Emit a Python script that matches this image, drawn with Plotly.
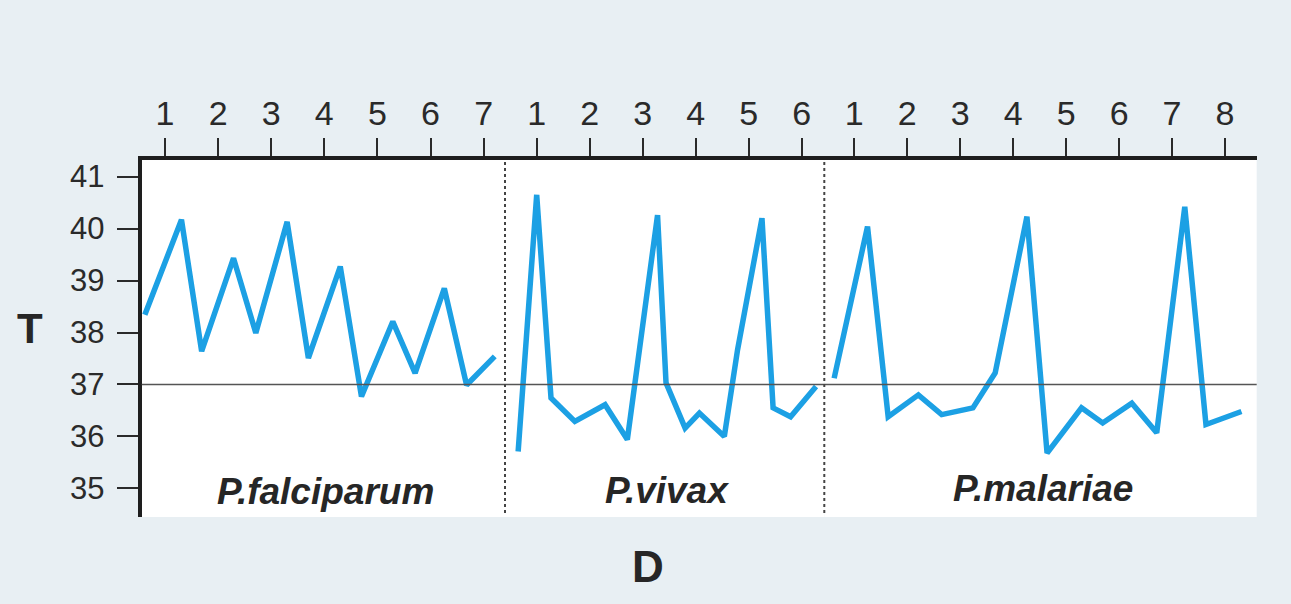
import plotly.graph_objects as go

W, H = 1291, 604

# Data: day positions and temperatures (°C) per species
falciparum_day = [0.62, 1.31, 1.69, 2.29, 2.71, 3.30, 3.70, 4.30, 4.70, 5.29, 5.71, 6.26, 6.68, 7.21]
falciparum_temp = [38.34, 40.17, 37.64, 39.43, 37.99, 40.13, 37.51, 39.27, 36.77, 38.21, 37.22, 38.85, 36.99, 37.54]

vivax_day = [0.65, 1.00, 1.27, 1.72, 2.29, 2.71, 3.28, 3.44, 3.80, 4.07, 4.54, 4.79, 5.25, 5.46, 5.79, 6.27]
vivax_temp = [35.71, 40.65, 36.74, 36.29, 36.61, 35.94, 40.26, 37.03, 36.16, 36.45, 36.00, 37.67, 40.20, 36.55, 36.38, 36.96]

malariae_day = [0.62, 1.25, 1.64, 2.21, 2.65, 3.24, 3.66, 4.26, 4.64, 5.29, 5.69, 6.24, 6.71, 7.24, 7.64, 8.31]
malariae_temp = [37.12, 40.04, 36.38, 36.80, 36.42, 36.55, 37.22, 40.23, 35.68, 36.55, 36.26, 36.64, 36.07, 40.42, 36.23, 36.48]

species = ["P.falciparum", "P.vivax", "P.malariae"]
day_ticks = [list(range(1, 8)), list(range(1, 7)), list(range(1, 9))]
temp_ticks = [35, 36, 37, 38, 39, 40, 41]
normal_temp = 37

# Layout geometry (pixels)
left, right, top, bottom = 141.7, 1256.7, 160, 517
div1, div2 = 505, 824.3
px = lambda v: v / W
py = lambda v: 1 - v / H

x_ranges = [[0.561, 7.403], [0.402, 6.426], [0.434, 8.598]]
x_domains = [[px(left), px(div1)], [px(div1), px(div2)], [px(div2), px(right)]]

LINE = "#1ca0e4"
INK = "#2a2a2a"
FONT = "Liberation Sans, Arial, Helvetica, sans-serif"

fig = go.Figure()
series = [(falciparum_day, falciparum_temp), (vivax_day, vivax_temp), (malariae_day, malariae_temp)]
for i, (d, t) in enumerate(series):
    fig.add_trace(go.Scatter(
        x=d, y=t, mode="lines", name=species[i],
        line=dict(color=LINE, width=5.5),
        xaxis="x" if i == 0 else f"x{i+1}", yaxis="y",
        showlegend=False, hoverinfo="x+y",
    ))

layout = dict(
    width=W, height=H, autosize=False,
    margin=dict(l=0, r=0, t=0, b=0),
    paper_bgcolor="#e8eff3",
    plot_bgcolor="#ffffff",
    font=dict(family=FONT, color=INK),
    yaxis=dict(
        domain=[py(bottom), py(top)],
        range=[34.45, 41.32],
        tickvals=temp_ticks,
        ticks="outside", ticklen=21, tickwidth=2, tickcolor=INK,
        ticklabelstandoff=6,
        showline=True, linewidth=4, linecolor="#1e1e1e",
        showgrid=False, zeroline=False,
        tickfont=dict(size=31, color=INK),
        anchor="x",
    ),
)
for i in range(3):
    key = "xaxis" if i == 0 else f"xaxis{i+1}"
    layout[key] = dict(
        domain=x_domains[i], range=x_ranges[i],
        side="top", anchor="y",
        tickvals=day_ticks[i],
        ticks="outside", ticklen=18, tickwidth=2, tickcolor=INK,
        ticklabelstandoff=-1,
        showline=True, linewidth=4, linecolor="#1e1e1e",
        showgrid=False, zeroline=False,
        tickfont=dict(size=34, color=INK),
    )
fig.update_layout(**layout)

# Normal temperature line
fig.add_shape(type="line", xref="paper", yref="y", x0=px(left), x1=px(right),
              y0=normal_temp, y1=normal_temp, line=dict(color="#555555", width=1.6))
# Panel dividers
for xd in (div1, div2):
    fig.add_shape(type="line", xref="paper", yref="paper", x0=px(xd), x1=px(xd),
                  y0=py(513), y1=py(top), line=dict(color="#444444", width=2, dash="dot"))

# Species labels
label_x = [325.7, 666.7, 1043]
label_y = [491.5, 490, 488]
for i in range(3):
    fig.add_annotation(text=f"<b><i>{species[i]}</i></b>", xref="paper", yref="paper",
                       x=px(label_x[i]), y=py(label_y[i]), showarrow=False,
                       xanchor="center", yanchor="middle",
                       font=dict(size=37, color="#262626", family=FONT))

# Axis titles
fig.add_annotation(text="<b>T</b>", xref="paper", yref="paper", x=px(30), y=py(328),
                   showarrow=False, xanchor="center", yanchor="middle",
                   font=dict(size=42, color="#262626", family=FONT))
fig.add_annotation(text="<b>D</b>", xref="paper", yref="paper", x=px(648), y=py(566),
                   showarrow=False, xanchor="center", yanchor="middle",
                   font=dict(size=44, color="#262626", family=FONT))

fig.write_html("out.html", config={"displayModeBar": False},
               post_script="document.body.style.margin='0';document.body.style.overflow='hidden';")
